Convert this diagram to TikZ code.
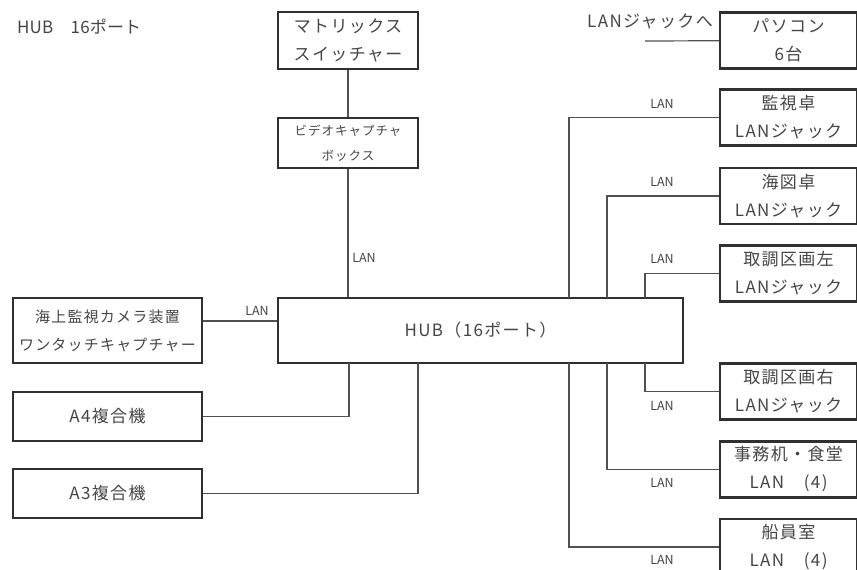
\documentclass[tikz,border=0pt]{standalone}
\usepackage{fontspec}
\setmainfont{Noto Sans CJK JP}[LetterSpace=8]
\usepackage{tikz}
\definecolor{boxline}{HTML}{303030}
\definecolor{wireline}{HTML}{505050}
\definecolor{textgray}{HTML}{454545}
\tikzset{
  box/.style={draw=boxline, line width=2.3pt, minimum width=189pt, minimum height=49pt,
              font=\fontsize{17}{28}\selectfont, text=textgray, align=center, inner sep=0pt},
  swbox/.style={box, minimum width=140pt, minimum height=57pt},
  capbox/.style={swbox, minimum height=50pt, font=\fontsize{12.5}{25}\selectfont},
  hubbox/.style={box, minimum width=405pt, minimum height=65pt},
  jackbox/.style={box, minimum width=137pt, minimum height=56pt},
  wire/.style={draw=wireline, line width=1.2pt},
  lan/.style={font=\fontsize{12.5}{13}\selectfont\addfontfeatures{LetterSpace=0}, text=textgray, inner sep=0pt},
}
\begin{document}
\begin{tikzpicture}[x=1pt, y=-1pt]
    \useasboundingbox (0,0) rectangle (857,570);
    \node[anchor=west, font=\fontsize{17}{20}\selectfont\addfontfeatures{LetterSpace=1}, text=textgray, inner sep=0pt] (title) at (17,27) {HUB　16ポート};
    \node[swbox] (mtx) at (348,40.5) {マトリックス\\スイッチャー};
    \node[capbox] (vcap) at (348,143) {ビデオキャプチャ\\ボックス};
    \node[hubbox] (hub) at (480.5,330.5) {HUB（16ポート）};
    \node[box, minimum height=65pt, font=\fontsize{15}{28}\selectfont] (cam) at (107.5,330.5) {海上監視カメラ装置\\ワンタッチキャプチャー};
    \node[box] (a4) at (107.5,416.5) {A4複合機};
    \node[box] (a3) at (107.5,493.5) {A3複合機};
    \node[jackbox] (pc) at (788.5,40.5) {パソコン\\6台};
    \node[jackbox] (kanshi) at (788.5,117.5) {監視卓\\LANジャック};
    \node[jackbox] (kaizu) at (788.5,196) {海図卓\\LANジャック};
    \node[jackbox] (torl) at (788.5,273.5) {取調区画左\\LANジャック};
    \node[jackbox] (torr) at (788.5,391.5) {取調区画右\\LANジャック};
    \node[jackbox] (jimu) at (788.5,469.5) {事務机・食堂\\LAN　(4)};
    \node[jackbox] (senin) at (788.5,547) {船員室\\LAN　(4)};
    \coordinate (pcend) at (645,41);
    \coordinate (hubtop) at (hub.north -| vcap);
    \coordinate (pa) at (569,298);
    \coordinate (pb) at (607,298);
    \coordinate (pc1) at (645,298);
    \coordinate (qa) at (569,363);
    \coordinate (qb) at (607,363);
    \coordinate (qc) at (645,363);
    \coordinate (qd) at (349,363);
    \coordinate (qe) at (418,363);
    \draw[wire] (mtx) -- (vcap);
    \draw[wire] (vcap) -- (hubtop);
    \draw[wire] ([yshift=9.5pt]cam.east) -- ([yshift=9.5pt]hub.west);
    \draw[wire] (a4) -| (qd);
    \draw[wire] (a3) -| (qe);
    \draw[wire] (pc) -- (pcend);
    \draw[wire] (kanshi) -| (pa);
    \draw[wire] (kaizu) -| (pb);
    \draw[wire] (torl) -| (pc1);
    \draw[wire] (torr) -| (qc);
    \draw[wire] (jimu) -| (qb);
    \draw[wire] (senin) -| (qa);
    \node[anchor=south east, font=\fontsize{17}{20}\selectfont, text=textgray, inner sep=0pt] (tojack) at (713,29) {LANジャックへ};
    \node[lan] (lanv) at (364,258) {LAN};
    \node[lan] (lanc) at (257,311) {LAN};
    \node[lan] (lan1) at (662,104) {LAN};
    \node[lan] (lan2) at (662,182) {LAN};
    \node[lan] (lan3) at (662,259) {LAN};
    \node[lan] (lan4) at (662,406) {LAN};
    \node[lan] (lan5) at (662,483) {LAN};
    \node[lan] (lan6) at (662,560) {LAN};
  \end{tikzpicture}
\end{document}
